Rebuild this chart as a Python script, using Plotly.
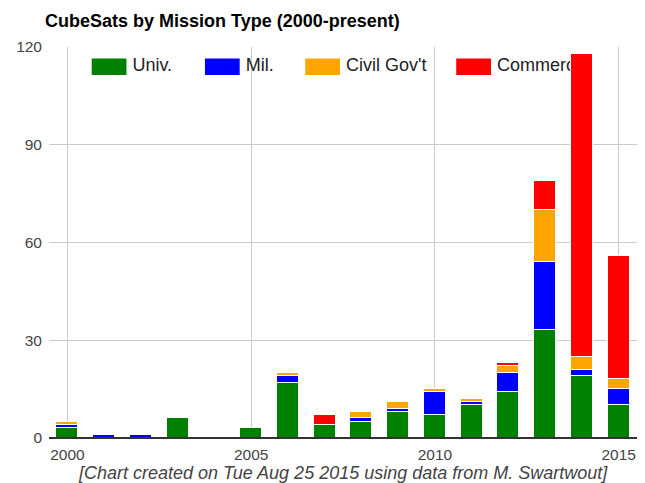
import plotly.graph_objects as go

years = list(range(2000, 2016))
univ =       [3, 0, 0, 6, 0, 3, 17, 4, 5, 8, 7, 10, 14, 33, 19, 10]
mil =        [1, 1, 1, 0, 0, 0, 2, 0, 1, 1, 7, 1, 6, 21, 2, 5]
civil_gov =  [1, 0, 0, 0, 0, 0, 1, 0, 2, 2, 1, 1, 2, 16, 4, 3]
commercial = [0, 0, 0, 0, 0, 0, 0, 3, 0, 0, 0, 0, 1, 9, 93, 38]

series_names = ["Univ.", "Mil.", "Civil Gov't", "Commercial"]
series_values = [univ, mil, civil_gov, commercial]
colors = ["#008000", "#0000ff", "#ffa500", "#ff0000"]

FONT = "Liberation Sans, Arial"
X_RANGE = [1999.5, 2015.5]
Y_RANGE = [0, 120]

# the page has an 8px body margin, so the figure is drawn 8px in from the corner
OFF = 8
W, H = 645 - OFF, 483 - OFF
PL, PR, PT, PB = 45 - OFF, 637 - OFF, 47 - OFF, 438.5 - OFF
PW, PH = PR - PL, PB - PT

def px(x):
    return (x - OFF - PL) / PW

def py(y):
    return (PB - (y - OFF)) / PH

fig = go.Figure()

# legend labels live on the base axes so the bars (on the overlay axes) can cover them
leg_x = [88, 202, 303, 455]
fig.add_trace(go.Scatter(
    x=[X_RANGE[0] + px(lx + 41) * (X_RANGE[1] - X_RANGE[0]) for lx in leg_x],
    y=[Y_RANGE[0] + py(67) * (Y_RANGE[1] - Y_RANGE[0])] * len(leg_x),
    text=series_names, mode="text", textposition="middle right",
    textfont=dict(family=FONT, size=18, color="#222222"),
    hoverinfo="skip", showlegend=False, xaxis="x", yaxis="y"))

for name, vals, c in zip(series_names, series_values, colors):
    fig.add_trace(go.Bar(x=years, y=vals, name=name, width=0.6,
                         marker=dict(color=c, line=dict(color="white", width=1)),
                         showlegend=False, xaxis="x2", yaxis="y2"))

# wide legend swatches like the original
for c, lx in zip(colors, leg_x):
    fig.add_shape(type="rect", xref="paper", yref="paper",
                  x0=px(lx), x1=px(lx + 35), y0=py(75), y1=py(58.5),
                  fillcolor=c, line=dict(color=c, width=0), layer="above")

fig.add_annotation(xref="paper", yref="paper", x=px(341), y=py(474),
                   text="<i>[Chart created on Tue Aug 25 2015 using data from M. Swartwout]</i>",
                   showarrow=False, xanchor="center", yanchor="middle",
                   font=dict(family=FONT, size=18, color="#444444"))

fig.update_layout(
    barmode="stack",
    width=W, height=H,
    margin=dict(l=PL, r=W - PR, t=PT, b=H - PB, pad=0),
    paper_bgcolor="white", plot_bgcolor="white",
    title=dict(text="<b>CubeSats by Mission Type (2000-present)</b>", x=(45 - OFF) / W, xanchor="left",
               y=1 - (21 - OFF) / H, yanchor="middle",
               font=dict(family=FONT, size=18, color="#000000")),
    xaxis=dict(range=X_RANGE, tickvals=[2000, 2005, 2010, 2015],
               showgrid=True, gridcolor="#cccccc", gridwidth=1, zeroline=False,
               showline=False, ticks="", ticklabelstandoff=5,
               tickfont=dict(family=FONT, size=15.5, color="#444444")),
    yaxis=dict(range=Y_RANGE, tickvals=[0, 30, 60, 90, 120],
               showgrid=True, gridcolor="#cccccc", gridwidth=1, zeroline=False,
               ticks="", ticklen=0, ticklabelstandoff=6,
               tickfont=dict(family=FONT, size=15.5, color="#444444")),
    xaxis2=dict(range=X_RANGE, overlaying="x", matches="x", visible=False,
                showgrid=False, zeroline=False),
    yaxis2=dict(range=Y_RANGE, overlaying="y", matches="y", visible=False,
                showgrid=False, zeroline=False),
    bargap=0,
)
# baseline
fig.add_shape(type="line", xref="paper", yref="paper", x0=0, x1=1, y0=0, y1=0,
              line=dict(color="#333333", width=2), layer="above")

fig.write_html("out.html")
